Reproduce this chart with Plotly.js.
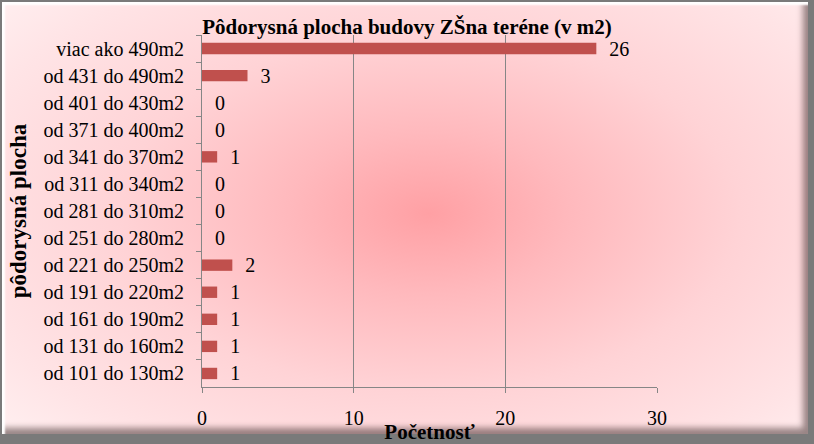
<!DOCTYPE html>
<html>
<head>
<meta charset="utf-8">
<script src="https://cdn.plot.ly/plotly-3.0.1.min.js"></script>
<style>
  html, body { margin: 0; padding: 0; background: #8a8a8a; }
  #Frame {
    position: absolute; left: 0; top: 0; width: 814px; height: 444px;
    background: #7a7a7a;
  }
  #Panel {
    position: absolute; left: 2px; top: 2px; width: 806px; height: 432px;
    background: radial-gradient(ellipse 70% 75% at 53% 49%, #ffa0a4 0%, #ffb9bd 25%, #ffd3d6 55%, #ffe4e6 85%, #ffeeef 100%);
    box-shadow: inset 3px 3px 2px #ffffff, inset -5px -6px 6px rgba(50,30,30,0.5);
  }
  #Graph1 { position: absolute; left: 0; top: 0; }
</style>
</head>
<body>
<div id="Frame"><div id="Panel"></div></div>
<div id="Graph1"></div>
<script>
// categories top to bottom, as in the chart
var categories = [
    "viac ako 490m2",
    "od 431 do 490m2",
    "od 401 do 430m2",
    "od 371 do 400m2",
    "od 341 do 370m2",
    "od 311 do 340m2",
    "od 281 do 310m2",
    "od 251 do 280m2",
    "od 221 do 250m2",
    "od 191 do 220m2",
    "od 161 do 190m2",
    "od 131 do 160m2",
    "od 101 do 130m2"
]
var counts = [26, 3, 0, 0, 1, 0, 0, 0, 2, 1, 1, 1, 1]
var x_ticks = [0, 10, 20, 30]

var serif = "Liberation Serif, Times New Roman, serif"
var grid_color = "#868686"

var traces = [{
    type: "bar",
    orientation: "h",
    x: counts,
    y: categories,
    marker: {color: "#C0504D"},
    // leading space pushes the label a bit off the bar end, like the original
    text: counts.map(c => "\u2002" + c),
    textposition: "outside",
    constraintext: "none",
    cliponaxis: false,
    textfont: {family: serif, size: 20, color: "#000"},
    hoverinfo: "none"
}]

var graph_layout = {
    width: 814,
    height: 444,
    margin: {l: 202, r: 157, t: 35, b: 57},
    paper_bgcolor: "rgba(0,0,0,0)",
    plot_bgcolor: "rgba(0,0,0,0)",
    bargap: 0.58,
    showlegend: false,
    font: {family: serif, size: 20, color: "#000"},
    title: {
        text: "Pôdorysná plocha budovy ZŠna teréne (v m2)",
        font: {family: serif, size: 21, weight: "bold", color: "#000"},
        xref: "container", yref: "container",
        x: 0.5, y: 1 - 27 / 444,
        xanchor: "center", yanchor: "middle"
    },
    xaxis: {
        range: [0, 30],
        tickvals: x_ticks,
        showgrid: true,
        gridcolor: grid_color,
        gridwidth: 1,
        zeroline: false,
        showline: true,
        linecolor: grid_color,
        ticks: "outside",
        ticklen: 5,
        tickcolor: grid_color,
        ticklabelstandoff: 8,
        tickfont: {family: serif, size: 20},
        title: {
            text: "Početnosť",
            font: {family: serif, size: 21, weight: "bold"},
            standoff: 0
        },
        automargin: false,
        fixedrange: true
    },
    yaxis: {
        type: "category",
        autorange: "reversed",
        showgrid: false,
        zeroline: false,
        showline: true,
        linecolor: grid_color,
        ticks: "outside",
        tickson: "boundaries",
        ticklen: 5,
        tickcolor: grid_color,
        ticklabelstandoff: 13,
        tickfont: {family: serif, size: 20},
        title: {
            text: "pôdorysná plocha",
            font: {family: serif, size: 23, weight: "bold"},
            standoff: 10
        },
        automargin: false,
        fixedrange: true
    }
}

Plotly.newPlot("Graph1", traces, graph_layout, {displayModeBar: false, staticPlot: true})
</script>
</body>
</html>
